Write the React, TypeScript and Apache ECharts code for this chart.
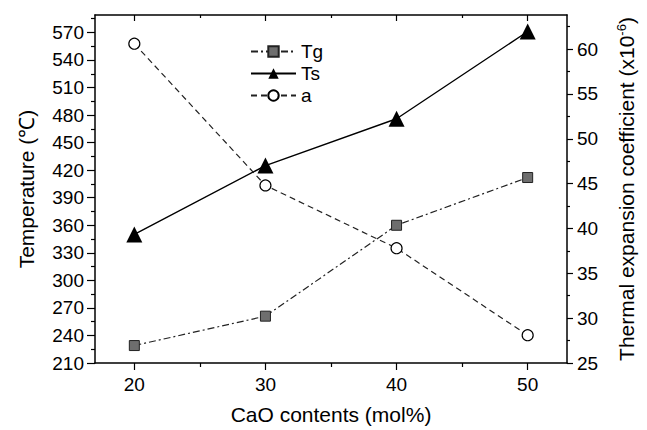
import React, { useEffect, useRef } from "react";
import * as echarts from "echarts";

const caoContents = [20, 30, 40, 50];
const tgValues = [229, 261, 360, 412];
const tsValues = [350, 425, 476, 571];
const alphaValues = [60.6, 44.8, 37.8, 28.1];

const xMajorTicks = [20, 30, 40, 50];
const xMinorTicks = [25, 35, 45];
const tempMajorTicks = [210, 240, 270, 300, 330, 360, 390, 420, 450, 480, 510, 540, 570];
const tempMinorTicks = [225, 255, 285, 315, 345, 375, 405, 435, 465, 495, 525, 555, 585];
const cteMajorTicks = [25, 30, 35, 40, 45, 50, 55, 60];
const cteMinorTicks = [27.5, 32.5, 37.5, 42.5, 47.5, 52.5, 57.5, 62.5];

const FONT = "'Liberation Sans', Arial, sans-serif";
const X_MIN = 17;
const X_MAX = 53;
const T_MIN = 210;
const T_MAX = 589;
const C_MIN = 25;
const C_MAX = 63.8;

export default function App() {
  const ref = useRef<HTMLDivElement>(null);
  useEffect(() => {
    if (!ref.current) return;
    const chart = echarts.init(ref.current, null, { renderer: "svg" });
    const lineAxis = { show: true, lineStyle: { color: "#000", width: 1.5 } };
    const hidden = { show: false };
    const tickOnly = (values: number[], len: number, inside: boolean) => ({
      show: true,
      inside,
      length: len,
      customValues: values,
      lineStyle: { color: "#000", width: 1.2 },
    });
    const xBase = (extra: any) => ({
      type: "value",
      min: X_MIN,
      max: X_MAX,
      splitLine: hidden,
      ...extra,
    });
    const option: any = {
      animation: false,
      textStyle: { fontFamily: FONT, color: "#000" },
      grid: { left: 95, top: 15, right: 80, bottom: 67, containLabel: false },
      legend: {
        orient: "vertical",
        left: 245,
        top: 37,
        itemWidth: 45,
        itemHeight: 13,
        itemGap: 3,
        textStyle: { fontSize: 19, color: "#000", fontFamily: FONT },
        data: ["Tg", "Ts", "a"],
      },
      xAxis: [
        xBase({
          position: "bottom",
          axisLine: lineAxis,
          axisTick: tickOnly(xMajorTicks, 7, false),
          axisLabel: {
            customValues: xMajorTicks,
            fontSize: 19,
            color: "#000",
            margin: 12,
            fontFamily: FONT,
          },
          name: "CaO contents (mol%)",
          nameLocation: "middle",
          nameGap: 41,
          nameTextStyle: { fontSize: 21, color: "#000", fontFamily: FONT },
        }),
        xBase({
          position: "bottom",
          axisLine: hidden,
          axisTick: tickOnly(xMinorTicks, 4, false),
          axisLabel: hidden,
        }),
        xBase({
          position: "top",
          axisLine: lineAxis,
          axisTick: tickOnly(xMajorTicks, 6, true),
          axisLabel: hidden,
        }),
        xBase({
          position: "top",
          axisLine: hidden,
          axisTick: tickOnly(xMinorTicks, 3, true),
          axisLabel: hidden,
        }),
      ],
      yAxis: [
        {
          type: "value",
          position: "left",
          min: T_MIN,
          max: T_MAX,
          splitLine: hidden,
          axisLine: lineAxis,
          axisTick: tickOnly(tempMajorTicks, 8, false),
          axisLabel: {
            customValues: tempMajorTicks,
            fontSize: 19,
            color: "#000",
            margin: 11,
            fontFamily: FONT,
          },
          name: "Temperature (℃)",
          nameLocation: "middle",
          nameGap: 58,
          nameRotate: 90,
          nameTextStyle: { fontSize: 21, color: "#000", fontFamily: FONT },
        },
        {
          type: "value",
          position: "right",
          min: C_MIN,
          max: C_MAX,
          splitLine: hidden,
          axisLine: lineAxis,
          axisTick: tickOnly(cteMajorTicks, 6, false),
          axisLabel: {
            customValues: cteMajorTicks,
            fontSize: 19,
            color: "#000",
            margin: 10,
            fontFamily: FONT,
          },
          name: "Thermal expansion coefficient (x10{sup|-6})",
          nameLocation: "middle",
          nameGap: 48,
          nameRotate: 90,
          nameTextStyle: {
            fontSize: 21,
            color: "#000",
            fontFamily: FONT,
            rich: {
              sup: {
                fontSize: 13,
                color: "#000",
                fontFamily: FONT,
                verticalAlign: "top",
                padding: [0, 0, 10, 0],
              },
            },
          },
        },
        {
          type: "value",
          position: "left",
          min: T_MIN,
          max: T_MAX,
          splitLine: hidden,
          axisLine: hidden,
          axisTick: tickOnly(tempMinorTicks, 4, false),
          axisLabel: hidden,
        },
        {
          type: "value",
          position: "right",
          min: C_MIN,
          max: C_MAX,
          splitLine: hidden,
          axisLine: hidden,
          axisTick: tickOnly(cteMinorTicks, 3, false),
          axisLabel: hidden,
        },
      ],
      series: [
        {
          name: "Tg",
          type: "line",
          xAxisIndex: 0,
          yAxisIndex: 0,
          data: caoContents.map((x, i) => [x, tgValues[i]]),
          symbol: "rect",
          symbolSize: 10,
          itemStyle: { color: "#6e6e6e", borderColor: "#222", borderWidth: 1 },
          lineStyle: { color: "#222", width: 1.2, type: [7, 3, 2, 3] },
        },
        {
          name: "Ts",
          type: "line",
          xAxisIndex: 0,
          yAxisIndex: 0,
          data: caoContents.map((x, i) => [x, tsValues[i]]),
          symbol: "triangle",
          symbolSize: 16,
          itemStyle: { color: "#000", borderColor: "#000", borderWidth: 0 },
          lineStyle: { color: "#000", width: 1.4, type: "solid" },
        },
        {
          name: "a",
          type: "line",
          xAxisIndex: 0,
          yAxisIndex: 1,
          data: caoContents.map((x, i) => [x, alphaValues[i]]),
          symbol: "circle",
          symbolSize: 11,
          itemStyle: { color: "#fff", borderColor: "#000", borderWidth: 1.2 },
          lineStyle: { color: "#222", width: 1.2, type: [6, 4] },
        },
      ],
    };
    chart.setOption(option);
    return () => chart.dispose();
  }, []);
  return <div ref={ref} style={{ width: 647, height: 430, position: "absolute", left: 0, top: 0, background: "#fff" }} />;
}
